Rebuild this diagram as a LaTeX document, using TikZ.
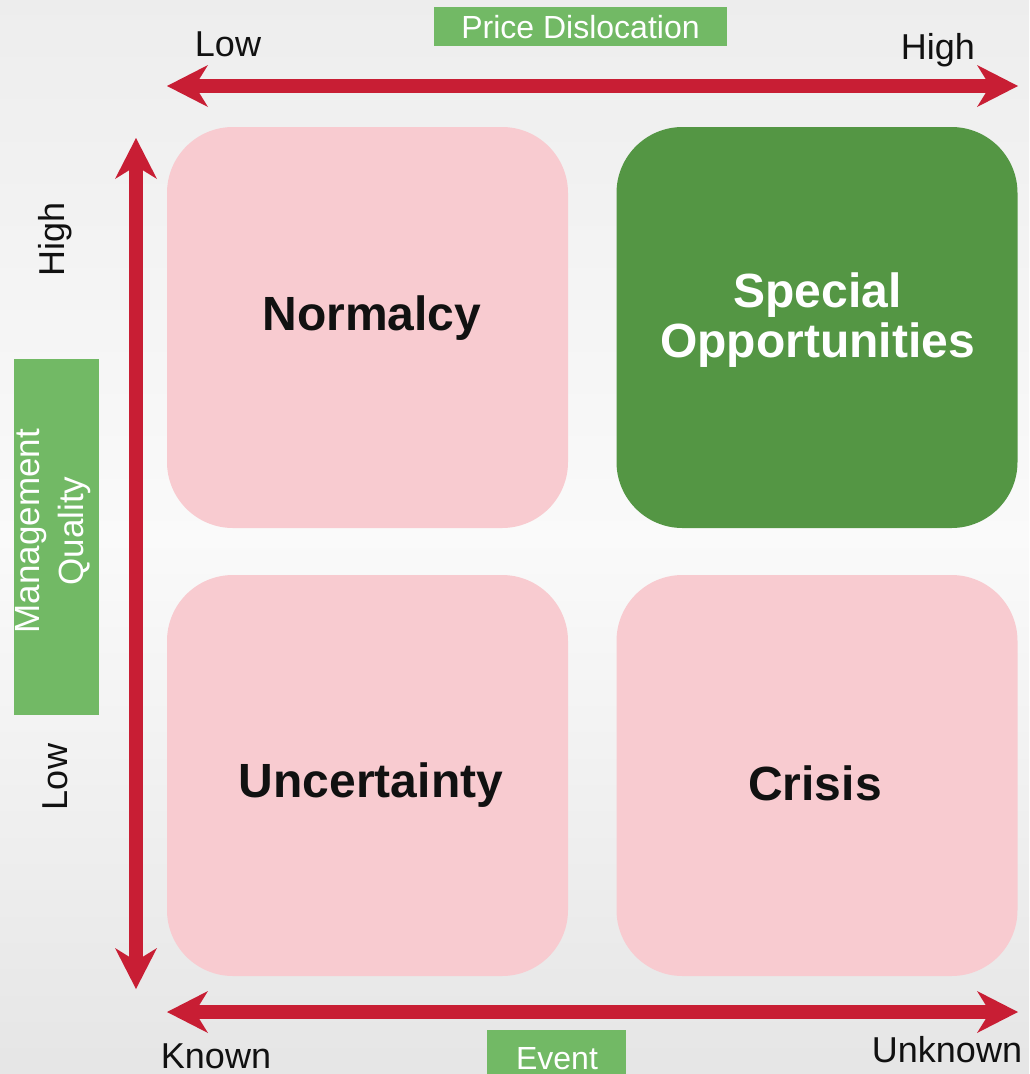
\documentclass[tikz,border=0pt]{standalone}
\usepackage{fontspec}
\setmainfont{Liberation Sans}
\usetikzlibrary{arrows.meta}
\definecolor{axisred}{HTML}{C81E34}
\definecolor{quadpink}{HTML}{F8CBD0}
\definecolor{quadgreen}{HTML}{549644}
\definecolor{taggreen}{HTML}{72B965}
\definecolor{txtblack}{HTML}{111111}
\tikzset{
  quad/.style={rounded corners=66pt, minimum width=401pt, minimum height=401pt, inner sep=0pt, draw=none},
  quadtxt/.style={font=\fontsize{48}{50}\selectfont\bfseries, inner sep=0pt, align=center},
  axislbl/.style={font=\fontsize{36}{40}\selectfont, text=txtblack, inner sep=0pt},
  tagbox/.style={fill=taggreen, inner sep=0pt, draw=none},
  tagtxt/.style={font=\fontsize{32}{36}\selectfont, text=white, inner sep=0pt},
  axisarrow/.style={draw=axisred, line width=14pt,
    {Stealth[length=41pt,width=42pt,inset=13pt,line width=0pt,fill=axisred]}-{Stealth[length=41pt,width=42pt,inset=13pt,line width=0pt,fill=axisred]}}
}
\begin{document}
\begin{tikzpicture}[x=1pt,y=-1pt]
\useasboundingbox (0,0) rectangle (1029,1074);
% background
\shade[top color=black!7, bottom color=black!10, middle color=black!2] (0,0) rectangle (1029,1074);

% quadrants
\node[quad, fill=quadpink]  (normalcy) at (367.5,327.5) {};
\node[quad, fill=quadgreen] (special)  at (817,327.5) {};
\node[quad, fill=quadpink]  (uncert)   at (367.5,775.5) {};
\node[quad, fill=quadpink]  (crisis)   at (817,775.5) {};

\node[quadtxt, text=txtblack, anchor=base] (normalcyT) at (372,330) {Normalcy};
\node[quadtxt, text=white] (specialT) at (817.5,320) {Special\\Opportunities};
\node[quadtxt, text=txtblack, anchor=base] (uncertT) at (371,797) {Uncertainty};
\node[quadtxt, text=txtblack, anchor=base] (crisisT) at (815,800) {Crisis};

% axes
\coordinate (tL) at (167,86);
\coordinate (tR) at (1018,86);
\coordinate (vT) at (136,138);
\coordinate (vB) at (136,989);
\coordinate (bL) at (167,1012);
\coordinate (bR) at (1018,1012);
\draw[axisarrow] (tL) -- (tR);
\draw[axisarrow] (vT) -- (vB);
\draw[axisarrow] (bL) -- (bR);

% top labels
\node[tagbox, minimum width=293pt, minimum height=39pt] (pdbox) at (580.5,26.5) {};
\node[tagtxt, anchor=base] (pdtxt) at (580.5,38.5) {Price Dislocation};
\node[axislbl, anchor=base] (topLow) at (228,56) {Low};
\node[axislbl, anchor=base] (topHigh) at (938,59) {High};

% left labels
\node[tagbox, minimum width=85pt, minimum height=356pt] (mqbox) at (56.5,537) {};
\node[tagtxt, font=\fontsize{35}{44}\selectfont, align=center, rotate=90] (mqtxt) at (53,531) {Management\\Quality};
\node[axislbl, anchor=base, rotate=90] (leftHigh) at (64,239) {High};
\node[axislbl, anchor=base, rotate=90] (leftLow) at (67,777) {Low};

% bottom labels
\node[tagbox, minimum width=139pt, minimum height=46pt] (evbox) at (556.5,1053) {};
\node[tagtxt, anchor=base] (evtxt) at (557,1069) {Event};
\node[axislbl, anchor=base] (known) at (216,1068) {Known};
\node[axislbl, anchor=base] (unknown) at (947,1062) {Unknown};
\end{tikzpicture}
\end{document}
